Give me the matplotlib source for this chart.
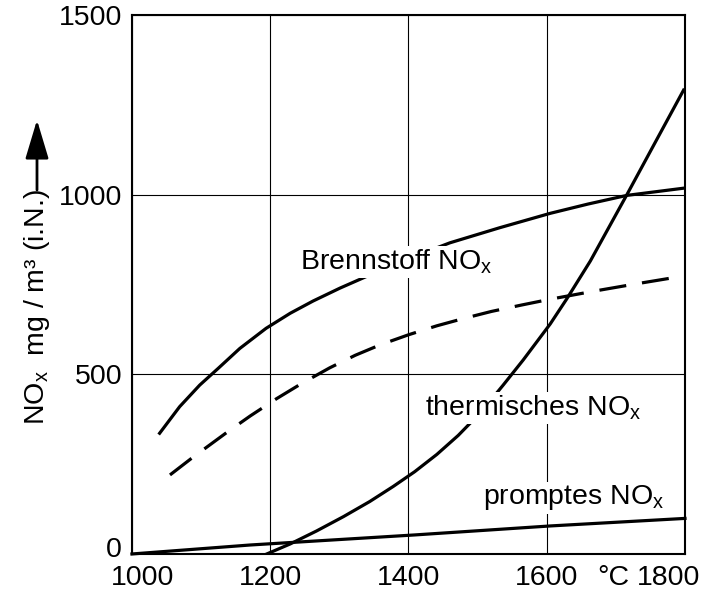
import matplotlib
matplotlib.use('Agg')
import matplotlib.pyplot as plt
import matplotlib.transforms as mtransforms

plt.rcParams['font.family'] = ['Liberation Sans', 'DejaVu Sans']
plt.rcParams['mathtext.fontset'] = 'custom'
plt.rcParams['mathtext.rm'] = 'Liberation Sans'
plt.rcParams['mathtext.it'] = 'Liberation Sans:italic'

# values
brenn_x = [1040, 1069, 1098, 1125, 1156, 1194, 1229, 1262, 1301, 1340, 1400,
           1460, 1532, 1605, 1660, 1716, 1798]
brenn_y = [336, 410, 470, 517, 572, 628, 670, 704, 740, 773, 822,
           866, 908, 948, 974, 998, 1018]

dash_x = [1055, 1086, 1137, 1171, 1209, 1245, 1286, 1323, 1359, 1400, 1441,
          1479, 1520, 1564, 1605, 1667, 1730, 1793]
dash_y = [220, 266, 338, 384, 432, 474, 518, 553, 582, 610, 635,
          655, 675, 693, 709, 731, 752, 772]

therm_x = [1195, 1229, 1267, 1306, 1344, 1378, 1409, 1441, 1472, 1505, 1537,
           1566, 1605, 1629, 1663, 1716, 1754, 1798]
therm_y = [0, 28, 64, 104, 146, 188, 229, 277, 330, 395, 470,
           540, 640, 710, 815, 1000, 1135, 1291]

prompt_x = [1000, 1171, 1409, 1605, 1800]
prompt_y = [0, 25, 53, 78, 99]

x_ticks = [1000, 1200, 1400, 1600, 1800]
y_ticks = [0, 500, 1000, 1500]

FS = 20.5
LW = 2.3

fig = plt.figure(figsize=(7.18, 5.93), dpi=100)
ax = fig.add_axes([0.1838, 0.0658, 0.7702, 0.9089])

ax.plot(brenn_x, brenn_y, color='black', lw=LW, zorder=3)
ax.plot(dash_x, dash_y, color='black', lw=LW, dashes=(8.5, 5), zorder=3)
ax.plot(therm_x, therm_y, color='black', lw=LW, zorder=3)
ax.plot(prompt_x, prompt_y, color='black', lw=LW, zorder=3, clip_on=False)

ax.set_xlim(1000, 1800)
ax.set_ylim(0, 1500)
ax.set_xticks(x_ticks)
ax.set_yticks(y_ticks)
ax.set_xticklabels([str(v) for v in x_ticks])
ax.set_yticklabels([str(v) for v in y_ticks])
ax.tick_params(axis='both', length=0, labelsize=FS)
ax.tick_params(axis='y', pad=7)
ax.tick_params(axis='x', pad=8)
ax.grid(True, color='black', lw=0.8, zorder=1)
for s in ax.spines.values():
    s.set_linewidth(1.5)

# shift some tick labels like in the original
xl = ax.get_xticklabels()
xl[0].set_transform(xl[0].get_transform() +
                    mtransforms.ScaledTranslation(0.11, 0, fig.dpi_scale_trans))
xl[-1].set_transform(xl[-1].get_transform() +
                     mtransforms.ScaledTranslation(-0.16, 0, fig.dpi_scale_trans))
yl = ax.get_yticklabels()
yl[0].set_transform(yl[0].get_transform() +
                    mtransforms.ScaledTranslation(0, 0.07, fig.dpi_scale_trans))

ax.annotate('°C', xy=(1697, 0), xycoords=('data', 'axes fraction'),
            xytext=(0, -8), textcoords='offset points',
            ha='center', va='top', fontsize=FS)

box = dict(facecolor='white', edgecolor='none', pad=1)
ax.text(1243, 813, r'Brennstoff NO$_\mathrm{x}$', fontsize=FS, ha='left',
        va='center', bbox=box, zorder=4)
ax.text(1424, 406, r'thermisches NO$_\mathrm{x}$', fontsize=FS, ha='left',
        va='center', bbox=box, zorder=4)
ax.text(1508, 156, r'promptes NO$_\mathrm{x}$', fontsize=FS, ha='left',
        va='center', bbox=box, zorder=4)

# y axis label with arrow
fig.text(37 / 718, 1 - 307 / 593, r'NO$_\mathrm{x}$  mg / m³ (i.N.)',
         rotation=90, ha='center', va='center', fontsize=FS)
ax.annotate('', xy=(37, 593 - 120), xycoords='figure pixels',
            xytext=(37, 593 - 190), textcoords='figure pixels',
            arrowprops=dict(arrowstyle='-|>,head_length=1.0,head_width=0.3',
                            mutation_scale=24, lw=2, color='black',
                            shrinkA=0, shrinkB=0))

fig.savefig('out.png', dpi=100)
